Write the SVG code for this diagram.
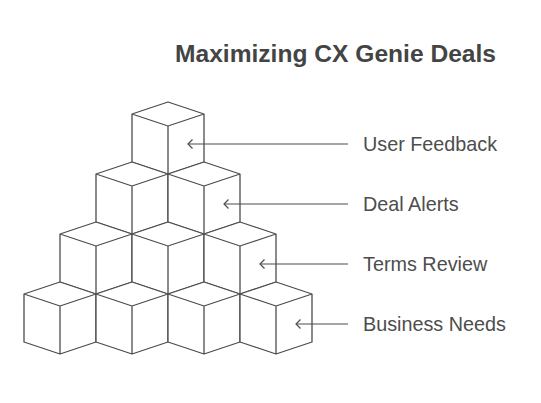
<svg xmlns="http://www.w3.org/2000/svg" width="541" height="403" viewBox="0 0 541 403">
<defs>
<style>
.cube{fill:#ffffff;stroke:#4d4d4d;stroke-width:1.3;stroke-linejoin:round}
.conn{fill:none;stroke:#4d4d4d;stroke-width:1.2}
.head{fill:none;stroke:#4d4d4d;stroke-width:1.2}
.lbl{font-family:"Liberation Sans",Arial,sans-serif;font-size:19.8px;fill:#4d4d4d}
.title{font-family:"Liberation Sans",Arial,sans-serif;font-size:23.5px;font-weight:bold;fill:#444444}
</style>
<g id="cubeShape">
<path class="cube" d="M0,-24 L36,-12 L36,36 L0,48 L-36,36 L-36,-12 Z M-36,-12 L0,0 L36,-12 M0,0 L0,48"/>
</g>
</defs>
<rect width="541" height="403" fill="#ffffff"/>
<text class="title" x="496" y="62" text-anchor="end" textLength="321" lengthAdjust="spacingAndGlyphs">Maximizing CX Genie Deals</text>
<g id="cube-r1-1"><use href="#cubeShape" x="168" y="126"/></g>
<g id="cube-r2-1"><use href="#cubeShape" x="132" y="186"/></g>
<g id="cube-r2-2"><use href="#cubeShape" x="204" y="186"/></g>
<g id="cube-r3-1"><use href="#cubeShape" x="96" y="246"/></g>
<g id="cube-r3-2"><use href="#cubeShape" x="168" y="246"/></g>
<g id="cube-r3-3"><use href="#cubeShape" x="240" y="246"/></g>
<g id="cube-r4-1"><use href="#cubeShape" x="60" y="306"/></g>
<g id="cube-r4-2"><use href="#cubeShape" x="132" y="306"/></g>
<g id="cube-r4-3"><use href="#cubeShape" x="204" y="306"/></g>
<g id="cube-r4-4"><use href="#cubeShape" x="276" y="306"/></g>
<g id="connectors">
<line class="conn" x1="188" y1="144" x2="348" y2="144"/>
<polyline class="head" points="192.5,139.5 188,144 192.5,148.5"/>
<line class="conn" x1="224" y1="204" x2="348" y2="204"/>
<polyline class="head" points="228.5,199.5 224,204 228.5,208.5"/>
<line class="conn" x1="260" y1="264" x2="348" y2="264"/>
<polyline class="head" points="264.5,259.5 260,264 264.5,268.5"/>
<line class="conn" x1="296" y1="324" x2="348" y2="324"/>
<polyline class="head" points="300.5,319.5 296,324 300.5,328.5"/>
</g>
<g id="label-user-feedback"><text class="lbl" x="363" y="151">User Feedback</text></g>
<g id="label-deal-alerts"><text class="lbl" x="363" y="211">Deal Alerts</text></g>
<g id="label-terms-review"><text class="lbl" x="363" y="271">Terms Review</text></g>
<g id="label-business-needs"><text class="lbl" x="363" y="331">Business Needs</text></g>
</svg>
